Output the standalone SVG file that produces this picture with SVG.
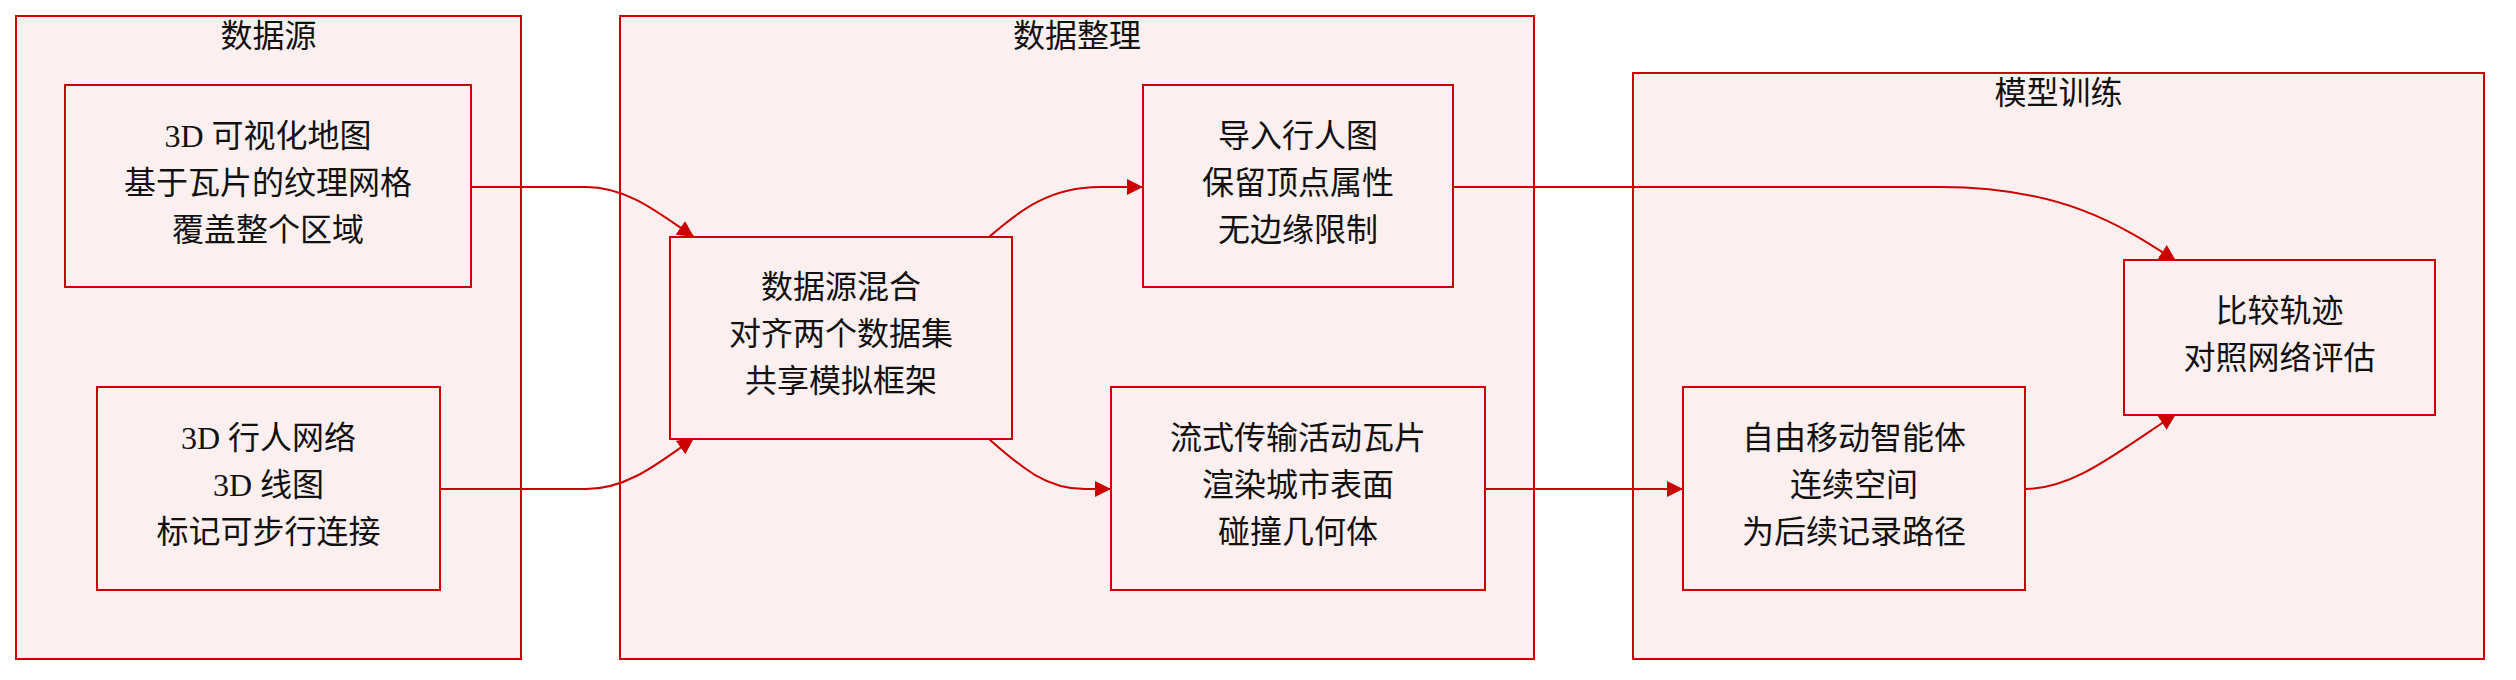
<svg xmlns="http://www.w3.org/2000/svg" width="2516" height="680" viewBox="0 0 2516 680">
<style>
.cluster rect{fill:#fcefef;stroke:#cc0000;stroke-width:2}
.node rect{fill:#fcefef;stroke:#cc0000;stroke-width:2}
text{font-family:"Liberation Serif","Noto Sans CJK SC",serif;font-size:32px;fill:#111;text-anchor:middle}
.edge{fill:none;stroke:#cc0000;stroke-width:2;marker-end:url(#arrow)}
</style>
<defs>
<marker id="arrow" viewBox="0 0 10 10" refX="10" refY="5" markerUnits="userSpaceOnUse" markerWidth="16.5" markerHeight="16.5" orient="auto">
<path d="M0,0 L10,5 L0,10 z" fill="#cc0000"/>
</marker>
</defs>
<rect width="2516" height="680" fill="#ffffff"/>
<g id="cluster-sources" class="cluster">
<rect x="16" y="16" width="505" height="643"/>
<text x="268.5" y="47">数据源</text>
</g>
<g id="cluster-prep" class="cluster">
<rect x="620" y="16" width="914" height="643"/>
<text x="1077" y="47">数据整理</text>
</g>
<g id="cluster-train" class="cluster">
<rect x="1633" y="73" width="851" height="586"/>
<text x="2058.5" y="104">模型训练</text>
</g>
<g id="connectors">
<path class="edge" d="M471,187 L586,187 C628,187 660,214 694,237"/>
<path class="edge" d="M440,489 L586,489 C628,489 660,462 694,438"/>
<path class="edge" d="M989,237 C1020,210 1050,187 1100,187 L1143,187"/>
<path class="edge" d="M989,439 C1020,466 1045,489 1085,489 L1111,489"/>
<path class="edge" d="M1453,187 L1940,187 C2060,187 2120,224 2176,261"/>
<path class="edge" d="M1485,489 L1683,489"/>
<path class="edge" d="M2025,489 C2075,489 2120,450 2176,414"/>
</g>
<g id="node-map3d" class="node">
<rect x="65" y="85" width="406" height="202"/>
<text x="268" y="146.7">3D 可视化地图</text>
<text x="268" y="193.7">基于瓦片的纹理网格</text>
<text x="268" y="240.7">覆盖整个区域</text>
</g>
<g id="node-network3d" class="node">
<rect x="97" y="387" width="343" height="203"/>
<text x="268.5" y="449">3D 行人网络</text>
<text x="268.5" y="496">3D 线图</text>
<text x="268.5" y="543">标记可步行连接</text>
</g>
<g id="node-blend" class="node">
<rect x="670" y="237" width="342" height="202"/>
<text x="841" y="298.4">数据源混合</text>
<text x="841" y="345.4">对齐两个数据集</text>
<text x="841" y="392.4">共享模拟框架</text>
</g>
<g id="node-import" class="node">
<rect x="1143" y="85" width="310" height="202"/>
<text x="1298" y="146.7">导入行人图</text>
<text x="1298" y="193.7">保留顶点属性</text>
<text x="1298" y="240.7">无边缘限制</text>
</g>
<g id="node-stream" class="node">
<rect x="1111" y="387" width="374" height="203"/>
<text x="1298" y="449">流式传输活动瓦片</text>
<text x="1298" y="496">渲染城市表面</text>
<text x="1298" y="543">碰撞几何体</text>
</g>
<g id="node-agent" class="node">
<rect x="1683" y="387" width="342" height="203"/>
<text x="1854" y="449">自由移动智能体</text>
<text x="1854" y="496">连续空间</text>
<text x="1854" y="543">为后续记录路径</text>
</g>
<g id="node-compare" class="node">
<rect x="2124" y="260" width="311" height="155"/>
<text x="2279.5" y="321.5">比较轨迹</text>
<text x="2279.5" y="369">对照网络评估</text>
</g>
</svg>
